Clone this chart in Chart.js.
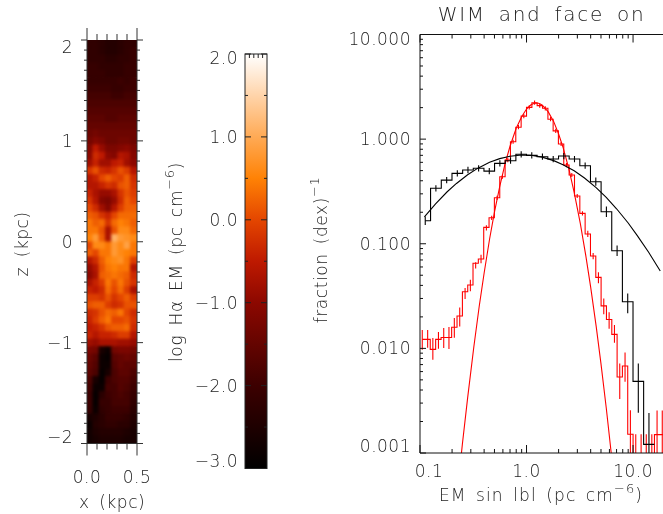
<!DOCTYPE html>
<html>
<head>
<meta charset="utf-8">
<script src="https://cdn.jsdelivr.net/npm/chart.js@4"></script>
<style>
html,body{margin:0;padding:0;background:#fff;}
#wrap{position:relative;width:663px;height:514px;overflow:hidden;}
canvas{position:absolute;left:0;top:0;}
</style>
</head>
<body>
<div id="wrap">
<canvas id="mapa" width="663" height="514"></canvas>
<canvas id="barra" width="663" height="514"></canvas>
<canvas id="hist" width="663" height="514"></canvas>
</div>
<script>
// ================================
// DATA
// ================================

// histogram, black (WIM)
const blackCenters = [.112,.141,.178,.224,.282,.355,.447,.562,.708,.891,1.12,1.41,1.78,2.24,2.82,3.55,4.47,5.62,7.08,8.91,11.2,14.1];
const blackValues = [.166,.339,.406,.471,.507,.526,.495,.587,.622,.716,.700,.679,.645,.689,.645,.557,.392,.202,.0857,.0279,.00484,.00121];
const blackUp = [.04,.03,.03,.03,.03,.03,.03,.03,.03,.03,.03,.03,.03,.03,.03,.03,.04,.05,.05,.08,.17,.30];
const blackDown = [.04,.03,.03,.03,.03,.03,.03,.03,.03,.03,.03,.03,.03,.03,.03,.03,.04,.05,.05,.11,.30,.30];

// histogram, red
const redCenters = [.105,.118,.132,.149,.167,.187,.21,.236,.265,.297,.333,.374,.42,.471,.529,.594,.667,.748,.84,.943,1.06,1.19,1.33,1.5,1.68,1.88,2.11,2.37,2.66,2.99,3.35,3.76,4.22,4.73,5.31,5.96,6.69,7.5,8.41,9.44,10.6,11.9,13.3,15,16.8,18.8];
const redValues = [.0122,.0122,.00978,.0122,.0127,.0127,.0159,.0204,.0348,.0403,.065,.0714,.1435,.177,.275,.437,.631,.944,1.30,1.66,2.01,2.23,2.09,1.97,1.55,1.20,.898,.565,.454,.286,.195,.124,.0763,.0477,.0255,.0189,.0136,.00532,.00678,.00151,.0005,.0005,.0005,.0005,.0015,.0015];
const redUp = [.09,.09,.11,.07,.09,.10,.09,.08,.035,.05,.01,.04,.02,.02,.02,.02,.02,.02,.02,.02,.02,.02,.02,.02,.02,.02,.02,.02,.02,.02,.02,.03,.03,.05,.07,.07,.09,.13,.13,.23,.48,.48,.48,.48,.23,.23];
const redDown = [.10,.08,.10,.09,.10,.11,.10,.10,.07,.06,.05,.04,.03,.02,.02,.02,.02,.02,.02,.02,.02,.02,.02,.02,.02,.02,.02,.02,.02,.02,.02,.03,.03,.055,.08,.09,.08,.21,.15,.30,0,0,0,0,.30,.30];

// smooth curves
const blackCurveX = [.11,.14,.18,.22,.28,.35,.45,.56,.7,.9,1.1,1.4,1.8,2.2,2.8,3.5,4.5,5.6,7,9,11,14,18];
const blackCurveY = [.181,.241,.314,.377,.457,.528,.600,.651,.687,.705,.700,.673,.623,.570,.498,.425,.344,.277,.216,.158,.119,.083,.0548];
const redCurveX = [.24,.25,.28,.32,.36,.4,.45,.5,.56,.63,.7,.8,.9,1,1.1,1.2,1.3,1.4,1.6,1.8,2,2.2,2.5,2.8,3.2,3.6,4,4.5,5,5.6,6,6.5];
const redCurveY = [.00082,.00122,.00336,.0103,.0254,.0525,.111,.201,.351,.586,.855,1.27,1.64,1.94,2.13,2.21,2.20,2.12,1.82,1.47,1.12,.837,.518,.31,.156,.0771,.0385,.0164,.0071,.00271,.00143,.00068];

// map of log EM, top row is z = +2
const mapaX = [.031,.094,.156,.219,.281,.344,.406,.469];
const mapaFilas = [
[-2.2,-2.2,-2.3,-2.4,-2.4,-2.3,-2.2,-2.2],
[-2.2,-2.2,-2.3,-2.4,-2.4,-2.3,-2.2,-2.1],
[-2.2,-2.2,-2.2,-2.3,-2.3,-2.2,-2.2,-2.1],
[-2.1,-2.1,-2.2,-2.2,-2.2,-2.2,-2.1,-2.1],
[-2.1,-2.1,-2.1,-2.2,-2.2,-2.2,-2.1,-2.1],
[-2.1,-2.1,-2.1,-2.1,-2.1,-2.0,-2.1,-2.0],
[-2.0,-2.0,-2.0,-2.0,-2.1,-2.1,-2.0,-2.0],
[-1.9,-1.9,-1.9,-1.9,-2.0,-2.0,-1.9,-1.9],
[-1.8,-1.8,-1.8,-1.8,-1.8,-1.8,-1.8,-1.8],
[-1.7,-1.7,-1.7,-1.7,-1.7,-1.7,-1.7,-1.7],
[-1.6,-1.6,-1.6,-1.7,-1.7,-1.6,-1.6,-1.6],
[-1.5,-1.5,-1.5,-1.5,-1.5,-1.5,-1.5,-1.5],
[-1.4,-1.3,-1.4,-1.4,-1.4,-1.4,-1.4,-1.4],
[-1.3,-1.1,-1.2,-1.4,-1.4,-1.3,-1.3,-1.4],
[-1.1,-.5,-.9,-1.2,-1.2,-1.1,-1.0,-1.2],
[-1.0,-.3,-.5,-1.0,-1.1,-.6,-.7,-1.1],
[-.8,-.4,-.8,-.8,-.5,-.4,-.8,-1.0],
[-.2,.1,-.3,-.4,-.2,.1,-.1,-.6],
[-.6,-.4,.0,.2,.0,-.1,.2,-.3],
[-.6,-.6,-.4,-.2,-.3,.1,.2,-.2],
[-.4,-.7,-.9,-.9,-.7,-.2,.1,-.1],
[-.2,-.6,-1.1,-1.2,-.9,-.3,.2,.0],
[.0,-.3,-.8,-1.1,-.6,-.1,.2,.2],
[.2,.1,-.2,-.4,.0,.3,.3,.3],
[.4,.2,.3,-.2,.3,.5,.4,.2],
[.4,.4,.1,-.7,.1,.6,.6,.3],
[.5,.8,.2,-.7,1.1,.8,.7,.6],
[.0,.6,.6,.4,.8,.6,.9,.4],
[.2,.0,.4,.4,.8,.6,.5,.4],
[-.6,-.3,.2,.5,.6,.7,.4,-.1],
[-.9,-.6,.1,.4,.5,.4,.4,-.6],
[-1.0,-.7,.2,.3,.4,.3,.2,-.3],
[-.7,-.4,-.1,.4,.1,.4,.1,-.2],
[-.4,-.5,-.3,.3,.0,.3,-.1,-.7],
[-.1,-.1,-.2,.1,-.2,.0,.2,-.1],
[.1,.2,.2,-.1,-.3,-.2,.1,.1],
[-.3,-.2,.1,.3,.2,.4,.0,-.3],
[-.4,-.1,.2,.4,.0,.0,.1,-.2],
[-.5,-.4,-.2,.1,.2,.2,.3,-.3],
[-.4,-.6,-.4,-.4,-.3,-.1,-.1,-.6],
[-.8,-.9,-.7,-.7,-.7,-.8,-.8,-.9],
[-1.2,-1.3,-2.6,-2.8,-1.3,-1.2,-1.2,-1.3],
[-1.4,-1.6,-2.8,-2.9,-1.6,-1.5,-1.4,-1.5],
[-1.5,-1.7,-2.8,-2.8,-1.7,-1.5,-1.6,-1.6],
[-1.6,-1.8,-2.9,-2.6,-1.8,-1.6,-1.6,-1.8],
[-1.8,-2.6,-2.9,-2.0,-1.8,-1.7,-1.7,-1.9],
[-1.9,-2.8,-2.8,-1.9,-1.9,-1.7,-1.8,-2.0],
[-2.0,-2.9,-2.3,-2.0,-1.9,-1.8,-1.9,-2.1],
[-2.0,-2.9,-2.1,-2.1,-1.9,-1.9,-1.9,-2.2],
[-2.1,-2.8,-2.2,-2.1,-2.0,-2.0,-2.0,-2.3],
[-2.6,-2.5,-2.3,-2.1,-2.1,-2.1,-2.2,-2.4],
[-2.8,-2.4,-2.3,-2.2,-2.2,-2.3,-2.3,-2.5],
[-2.7,-2.5,-2.4,-2.4,-2.4,-2.4,-2.5,-2.6],
[-2.7,-2.6,-2.5,-2.5,-2.5,-2.5,-2.6,-2.6]
];

// color table
const nivelesColor = [-3,-2,-1,-.5,0,.5,1,1.5,2];
const coloresColor = [[0,0,0],[60,0,0],[140,8,0],[190,25,0],[228,70,0],[255,130,5],[255,170,85],[255,212,170],[255,255,255]];

// ticks and labels
const xMapaMayor = [0,.5];
const xMapaMenor = [.1,.2,.3,.4];
const xMapaTexto = ["0.0","0.5"];
const zMayor = [-2,-1,0,1,2];
const zMenor = [-1.9,-1.8,-1.7,-1.6,-1.5,-1.4,-1.3,-1.2,-1.1,-.9,-.8,-.7,-.6,-.5,-.4,-.3,-.2,-.1,.1,.2,.3,.4,.5,.6,.7,.8,.9,1.1,1.2,1.3,1.4,1.5,1.6,1.7,1.8,1.9];
const zTexto = ["\u22122","\u22121","0","1","2"];
const barraMayor = [-3,-2,-1,0,1,2];
const barraMenor = [-2.5,-1.5,-.5,.5,1.5];
const barraTexto = ["\u22123.0","\u22122.0","\u22121.0","0.0","1.0","2.0"];
const histXMayor = [.1,1,10];
const histXMenor = [.2,.3,.4,.5,.6,.7,.8,.9,2,3,4,5,6,7,8,9];
const histXTexto = ["0.1","1.0","10.0"];
const histYMayor = [.001,.01,.1,1,10];
const histYMenor = [.002,.003,.004,.005,.006,.007,.008,.009,.02,.03,.04,.05,.06,.07,.08,.09,.2,.3,.4,.5,.6,.7,.8,.9,2,3,4,5,6,7,8,9];
const histYTexto = ["0.001","0.010","0.100","1.000","10.000"];

// ================================
// HELPERS
// ================================

const FUENTE = '"DejaVu Sans"';
const TINTA = "#222";

function colorDe(v){
    let i = 0;
    while(i < nivelesColor.length-2 && v > nivelesColor[i+1]) i++;
    const t = Math.max(0,Math.min(1,(v-nivelesColor[i])/(nivelesColor[i+1]-nivelesColor[i])));
    const a = coloresColor[i], b = coloresColor[i+1];
    return "rgb("+[0,1,2].map(k=>Math.round(a[k]+(b[k]-a[k])*t)).join(",")+")";
}

function escalones(centros,valores){
    const puntos = [];
    centros.forEach((c,i)=>{
        const izq = i===0 ? c : Math.sqrt(centros[i-1]*c);
        puntos.push({x:izq,y:valores[i]});
    });
    const n = centros.length-1;
    puntos.push({x:centros[n]*centros[n]/Math.sqrt(centros[n-1]*centros[n]),y:valores[n]});
    return puntos;
}

function barrasError(centros,valores,up,down){
    const puntos = [];
    centros.forEach((c,i)=>{
        puntos.push({x:c,y:valores[i]*Math.pow(10,-down[i])});
        puntos.push({x:c,y:valores[i]*Math.pow(10,up[i])});
        puntos.push({x:c,y:null});
    });
    return puntos;
}

function puntosCurva(xs,ys){
    return xs.map((x,i)=>({x:x,y:ys[i]}));
}

function texto(ctx,s,x,y,opc){
    opc = opc || {};
    ctx.save();
    ctx.translate(x,y);
    if(opc.rot) ctx.rotate(opc.rot);
    ctx.font = "200 "+(opc.size||17)+"px "+FUENTE;
    ctx.letterSpacing = (opc.esp||0)+"px";
    ctx.wordSpacing = (opc.palabra||0)+"px";
    ctx.fillStyle = TINTA;
    ctx.textAlign = opc.align||"center";
    ctx.textBaseline = "middle";
    ctx.fillText(s,0,0);
    ctx.restore();
}

// text with a raised part, drawn left to right around the center
function textoSup(ctx,antes,sup,despues,x,y,opc){
    opc = opc || {};
    const size = opc.size||17;
    ctx.save();
    ctx.translate(x,y);
    if(opc.rot) ctx.rotate(opc.rot);
    ctx.fillStyle = TINTA;
    ctx.textBaseline = "middle";
    ctx.textAlign = "left";
    ctx.letterSpacing = (opc.esp||0)+"px";
    ctx.wordSpacing = (opc.palabra||0)+"px";
    ctx.font = "200 "+size+"px "+FUENTE;
    const w1 = ctx.measureText(antes).width, w3 = ctx.measureText(despues).width;
    ctx.font = "200 "+(size-4)+"px "+FUENTE;
    const w2 = ctx.measureText(sup).width;
    let px = -(w1+w2+w3)/2;
    ctx.font = "200 "+size+"px "+FUENTE;
    ctx.fillText(antes,px,0);
    ctx.fillText(despues,px+w1+w2,0);
    ctx.font = "200 "+(size-4)+"px "+FUENTE;
    ctx.fillText(sup,px+w1,-7);
    ctx.restore();
}

function marcasX(ctx,chart,valores,y,largo){
    const s = chart.scales.x;
    ctx.beginPath();
    valores.forEach(v=>{
        const px = s.getPixelForValue(v);
        ctx.moveTo(px,y);
        ctx.lineTo(px,y+largo);
    });
    ctx.stroke();
}

function marcasY(ctx,chart,valores,x,largo){
    const s = chart.scales.y;
    ctx.beginPath();
    valores.forEach(v=>{
        const py = s.getPixelForValue(v);
        ctx.moveTo(x,py);
        ctx.lineTo(x+largo,py);
    });
    ctx.stroke();
}

function etiquetasY(ctx,chart,valores,textos,x,margen,bajo){
    const s = chart.scales.y, a = chart.chartArea;
    valores.forEach((v,i)=>{
        const py = Math.min(a.bottom-bajo,Math.max(a.top+margen,s.getPixelForValue(v)+1.5));
        texto(ctx,textos[i],x,py,{align:"right",esp:.5});
    });
}

const escalasSinMarcas = {
    grid:{display:false,drawTicks:false,tickLength:0},
    border:{display:false},
    ticks:{display:false}
};

// ================================
// MAP
// ================================

const mapaPuntos = [], mapaColores = [];
mapaFilas.forEach((fila,i)=>{
    fila.forEach((v,j)=>{
        mapaPuntos.push({x:mapaX[j],y:2-(i+.5)*4/mapaFilas.length});
        mapaColores.push(colorDe(v));
    });
});

new Chart(document.getElementById("mapa"),{
    type:"scatter",
    data:{datasets:[{
        data:mapaPuntos,
        pointStyle:"rect",
        pointRadius:5.6,
        pointBorderWidth:0,
        backgroundColor:mapaColores
    }]},
    options:{
        responsive:false,
        animation:false,
        layout:{padding:{left:87,right:526,top:40,bottom:70.5}},
        plugins:{legend:{display:false},tooltip:{enabled:false}},
        scales:{
            x:{type:"linear",min:0,max:.5,...escalasSinMarcas},
            y:{type:"linear",min:-2,max:2,...escalasSinMarcas}
        }
    },
    plugins:[{
        id:"suave",
        afterDatasetsDraw(chart){
            // soften the cells as one layer
            const ctx = chart.ctx, a = chart.chartArea, r = chart.currentDevicePixelRatio;
            ctx.save();
            ctx.beginPath();
            ctx.rect(a.left,a.top,a.width,a.height);
            ctx.clip();
            ctx.filter = "blur(1.5px)";
            ctx.drawImage(chart.canvas,a.left*r,a.top*r,a.width*r,a.height*r,a.left,a.top,a.width,a.height);
            ctx.restore();
        },
        afterDraw(chart){
            const ctx = chart.ctx, a = chart.chartArea;
            ctx.save();
            ctx.strokeStyle = "#333";
            ctx.lineWidth = 1;
            ctx.beginPath();
            ctx.moveTo(a.left,a.top); ctx.lineTo(a.left,a.bottom); ctx.lineTo(a.right,a.bottom); ctx.lineTo(a.right,a.top);
            ctx.stroke();
            marcasX(ctx,chart,xMapaMayor,a.top,-12);
            marcasX(ctx,chart,xMapaMenor,a.top,-6);
            marcasX(ctx,chart,xMapaMayor,a.bottom,12);
            marcasX(ctx,chart,xMapaMenor,a.bottom,6);
            marcasY(ctx,chart,zMayor,a.left,-6);
            marcasY(ctx,chart,zMenor,a.left,-3);
            marcasY(ctx,chart,zMayor,a.right,6);
            marcasY(ctx,chart,zMenor,a.right,3);
            xMapaMayor.forEach((v,i)=>{
                texto(ctx,xMapaTexto[i],chart.scales.x.getPixelForValue(v),479,{esp:.5});
            });
            etiquetasY(ctx,chart,zMayor,zTexto,73,9,5);
            texto(ctx,"x (kpc)",112,504,{palabra:4,esp:.5});
            texto(ctx,"z (kpc)",24,244,{rot:-Math.PI/2,palabra:4,esp:.5});
            ctx.restore();
        }
    }]
});

// ================================
// COLOR BAR
// ================================

new Chart(document.getElementById("barra"),{
    type:"bar",
    data:{
        labels:["log H\u03b1 EM"],
        datasets:[{
            data:[[nivelesColor[0],nivelesColor[nivelesColor.length-1]]],
            barPercentage:1,
            categoryPercentage:1,
            backgroundColor(c){
                const a = c.chart.chartArea;
                if(!a) return "#000";
                const g = c.chart.ctx.createLinearGradient(0,a.bottom,0,a.top);
                const lo = nivelesColor[0], hi = nivelesColor[nivelesColor.length-1];
                nivelesColor.forEach(v=>g.addColorStop((v-lo)/(hi-lo),colorDe(v)));
                return g;
            }
        }]
    },
    options:{
        responsive:false,
        animation:false,
        layout:{padding:{left:245,right:396,top:54,bottom:45.5}},
        plugins:{legend:{display:false},tooltip:{enabled:false}},
        scales:{
            x:{type:"category",...escalasSinMarcas},
            y:{type:"linear",min:-3,max:2,...escalasSinMarcas}
        }
    },
    plugins:[{
        id:"marcoBarra",
        afterDraw(chart){
            const ctx = chart.ctx, a = chart.chartArea;
            ctx.save();
            ctx.strokeStyle = "#222";
            ctx.lineWidth = 1;
            ctx.strokeRect(a.left,a.top,a.width,a.height);
            ctx.beginPath();
            [.2,.4,.6,.8].forEach(f=>{
                const px = a.left+f*a.width;
                ctx.moveTo(px,a.top);
                ctx.lineTo(px,a.top+4);
            });
            ctx.stroke();
            marcasY(ctx,chart,barraMayor,a.left,6);
            marcasY(ctx,chart,barraMenor,a.left,3);
            marcasY(ctx,chart,barraMayor,a.right,-6);
            marcasY(ctx,chart,barraMenor,a.right,-3);
            etiquetasY(ctx,chart,barraMayor,barraTexto,238,6,6);
            textoSup(ctx,"log H\u03b1 EM (pc cm","\u22126",")",178,262,{rot:-Math.PI/2,palabra:3,esp:.7});
            ctx.restore();
        }
    }]
});

// ================================
// HISTOGRAMS
// ================================

function lineaHist(datos,color,extra){
    return Object.assign({
        data:datos,
        showLine:true,
        borderColor:color,
        borderWidth:1.1,
        pointRadius:0,
        tension:0,
        spanGaps:false
    },extra||{});
}

new Chart(document.getElementById("hist"),{
    type:"scatter",
    data:{datasets:[
        lineaHist(escalones(blackCenters,blackValues),"#000",{stepped:"before"}),
        lineaHist(barrasError(blackCenters,blackValues,blackUp,blackDown),"#000"),
        lineaHist(puntosCurva(blackCurveX,blackCurveY),"#000"),
        lineaHist(escalones(redCenters,redValues),"#f00",{stepped:"before"}),
        lineaHist(barrasError(redCenters,redValues,redUp,redDown),"#f00"),
        lineaHist(puntosCurva(redCurveX,redCurveY),"#f00")
    ]},
    options:{
        responsive:false,
        animation:false,
        layout:{padding:{left:420,right:0,top:34.5,bottom:61}},
        plugins:{legend:{display:false},tooltip:{enabled:false}},
        scales:{
            x:{type:"logarithmic",min:.1,max:19.1,...escalasSinMarcas},
            y:{type:"logarithmic",min:.001,max:10,...escalasSinMarcas}
        }
    },
    plugins:[{
        id:"ejesHist",
        afterDraw(chart){
            const ctx = chart.ctx, a = chart.chartArea;
            ctx.save();
            ctx.strokeStyle = "#111";
            ctx.lineWidth = 1;
            ctx.beginPath();
            ctx.moveTo(a.right,a.top); ctx.lineTo(a.left,a.top); ctx.lineTo(a.left,a.bottom); ctx.lineTo(a.right,a.bottom);
            ctx.stroke();
            marcasX(ctx,chart,histXMayor,a.top,8);
            marcasX(ctx,chart,histXMenor,a.top,4);
            marcasX(ctx,chart,histXMayor,a.bottom,-8);
            marcasX(ctx,chart,histXMenor,a.bottom,-4);
            marcasY(ctx,chart,histYMayor,a.left,6);
            marcasY(ctx,chart,histYMenor,a.left,3);
            etiquetasY(ctx,chart,histYMayor,histYTexto,411,6.5,5);
            histXMayor.forEach((v,i)=>{
                const px = Math.max(a.left+9,chart.scales.x.getPixelForValue(v));
                texto(ctx,histXTexto[i],px,473,{esp:.5});
            });
            texto(ctx,"WIM and face on",541.5,16,{size:20,esp:1.7,palabra:5});
            textoSup(ctx,"EM sin lbl (pc cm","\u22126",")",541,497,{esp:1.1,palabra:3});
            textoSup(ctx,"fraction (dex)","\u22121","",323,250,{rot:-Math.PI/2,esp:.6,palabra:3});
            ctx.restore();
        }
    }]
});
</script>
</body>
</html>
